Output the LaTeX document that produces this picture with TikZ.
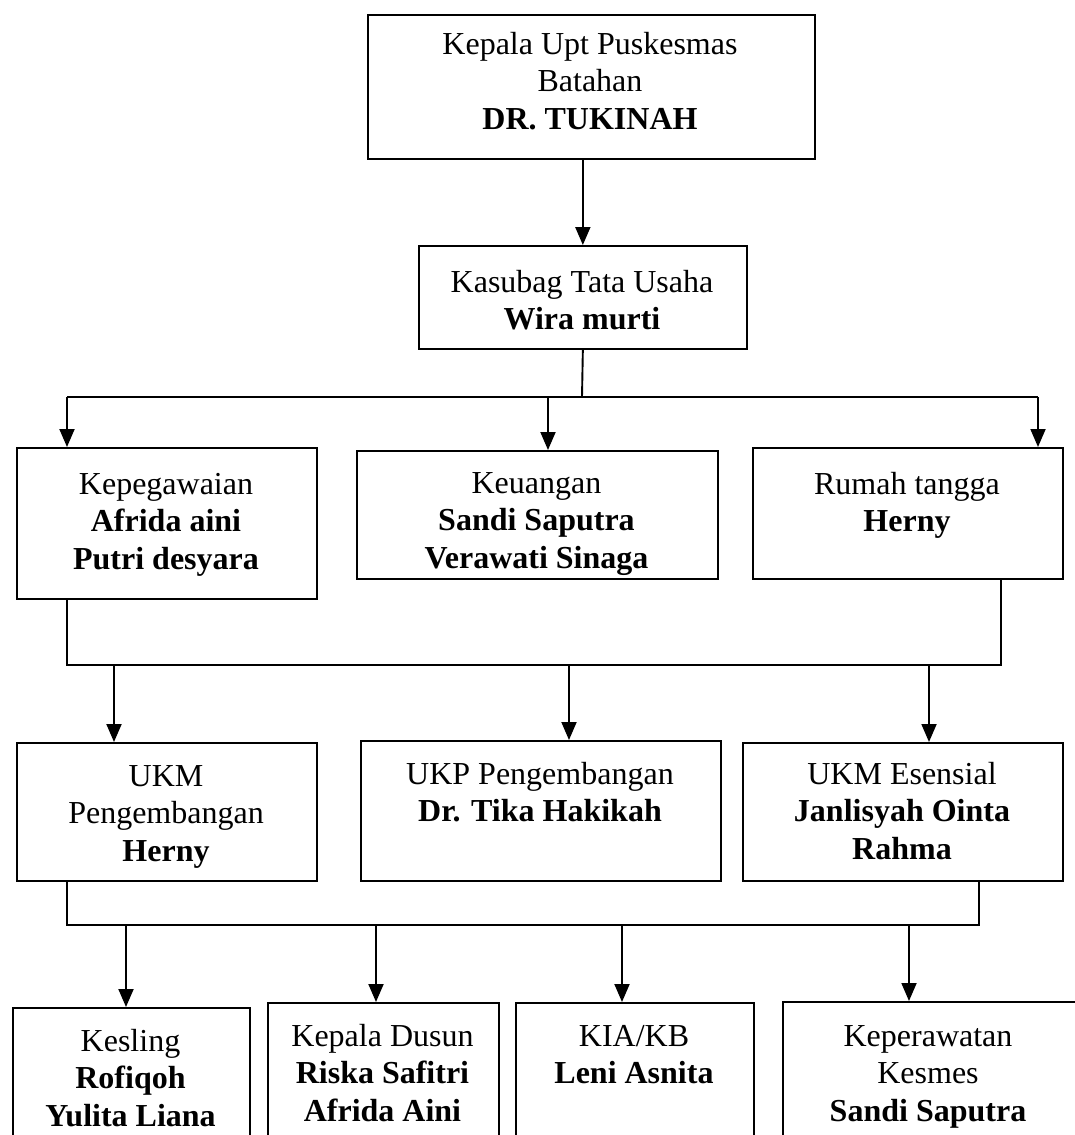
\documentclass[tikz,border=0pt]{standalone}
\usepackage{fontspec}
\setmainfont{Liberation Serif}
\usetikzlibrary{arrows.meta}
\begin{document}
\begin{tikzpicture}[x=1pt,y=-1pt,
  box/.style={draw, line width=1.7pt, anchor=north west, inner sep=0pt},
  txt/.style={anchor=north, align=center, inner sep=0pt, font=\fontsize{32}{37.5}\selectfont},
  ln/.style={line width=1.9pt},
  arr/.style={ln, -{Triangle[length=18pt,width=15pt]}}]
\useasboundingbox (0,0) rectangle (1075,1135);
\clip (0,0) rectangle (1075,1135);
\fill[white] (0,0) rectangle (1075,1135);
% boxes
\node[box, minimum width=447pt, minimum height=144pt] (top) at (367,14) {};
\node[box, minimum width=328pt, minimum height=103pt] (kasubag) at (418,245) {};
\node[box, minimum width=300pt, minimum height=151pt] (kepeg) at (16,447) {};
\node[box, minimum width=361pt, minimum height=128pt] (keu) at (356,450) {};
\node[box, minimum width=310pt, minimum height=131pt] (rumah) at (752,447) {};
\node[box, minimum width=300pt, minimum height=138pt] (ukmp) at (16,742) {};
\node[box, minimum width=360pt, minimum height=140pt] (ukp) at (360,740) {};
\node[box, minimum width=320pt, minimum height=138pt] (ukme) at (742,742) {};
\node[box, minimum width=237pt, minimum height=200pt] (kesling) at (12,1007) {};
\node[box, minimum width=231pt, minimum height=200pt] (dusun) at (267,1002) {};
\node[box, minimum width=238pt, minimum height=200pt] (kia) at (515,1002) {};
\node[box, minimum width=300pt, minimum height=200pt] (kep) at (782,1001) {};
% texts
\node[txt] (topt) at (590,28) {\strut Kepala Upt Puskesmas\\\strut Batahan\\\strut\textbf{DR. TUKINAH}};
\node[txt] (kasubagt) at (582,266) {\strut Kasubag Tata Usaha\\\strut\textbf{Wira murti}};
\node[txt] (kepegt) at (166,468) {\strut Kepegawaian\\\strut\textbf{Afrida aini}\\\strut\textbf{Putri desyara}};
\node[txt] (keut) at (536.5,467) {\strut Keuangan\\\strut\textbf{Sandi Saputra}\\\strut\textbf{Verawati Sinaga}};
\node[txt] (rumaht) at (907,468) {\strut Rumah tangga\\\strut\textbf{Herny}};
\node[txt] (ukmpt) at (166,760) {\strut UKM\\\strut Pengembangan\\\strut\textbf{Herny}};
\node[txt] (ukpt) at (540,758) {\strut UKP Pengembangan\\\strut\textbf{Dr. Tika Hakikah}};
\node[txt] (ukmet) at (902,758) {\strut UKM Esensial\\\strut\textbf{Janlisyah Ointa}\\\strut\textbf{Rahma}};
\node[txt] (keslingt) at (130.5,1025) {\strut Kesling\\\strut\textbf{Rofiqoh}\\\strut\textbf{Yulita Liana}};
\node[txt] (dusunt) at (382.5,1020) {\strut Kepala Dusun\\\strut\textbf{Riska Safitri}\\\strut\textbf{Afrida Aini}};
\node[txt] (kiat) at (634,1020) {\strut KIA/KB\\\strut\textbf{Leni Asnita}};
\node[txt] (kept) at (928,1020) {\strut Keperawatan\\\strut Kesmes\\\strut\textbf{Sandi Saputra}};
% connectors
\draw[arr] (kasubag.north |- top.south) -- (kasubag.north);
\coordinate (b1) at (582,397);
\coordinate (b1L) at (67,397);
\coordinate (b1M) at (548,397);
\coordinate (b1R) at (1038,397);
\draw[ln] (kasubag.south) -- (b1);
\draw[ln] (b1L) -- (b1R);
\draw[arr] (b1L) -- (b1L |- kepeg.north);
\draw[arr] (b1M) -- (b1M |- keu.north);
\draw[arr] (b1R) -- (b1R |- rumah.north);
\coordinate (b2L) at (67,665);
\coordinate (b2R) at (1001,665);
\coordinate (b2a) at (114,665);
\coordinate (b2b) at (569,665);
\coordinate (b2c) at (929,665);
\draw[ln] (b2L |- kepeg.south) -- (b2L) -- (b2R) -- (b2R |- rumah.south);
\draw[arr] (b2a) -- (b2a |- ukmp.north);
\draw[arr] (b2b) -- (b2b |- ukp.north);
\draw[arr] (b2c) -- (b2c |- ukme.north);
\coordinate (b3L) at (67,925);
\coordinate (b3R) at (979,925);
\coordinate (b3a) at (126,925);
\coordinate (b3b) at (376,925);
\coordinate (b3c) at (622,925);
\coordinate (b3d) at (909,925);
\draw[ln] (b3L |- ukmp.south) -- (b3L) -- (b3R) -- (b3R |- ukme.south);
\draw[arr] (b3a) -- (b3a |- kesling.north);
\draw[arr] (b3b) -- (b3b |- dusun.north);
\draw[arr] (b3c) -- (b3c |- kia.north);
\draw[arr] (b3d) -- (b3d |- kep.north);
\end{tikzpicture}
\end{document}
